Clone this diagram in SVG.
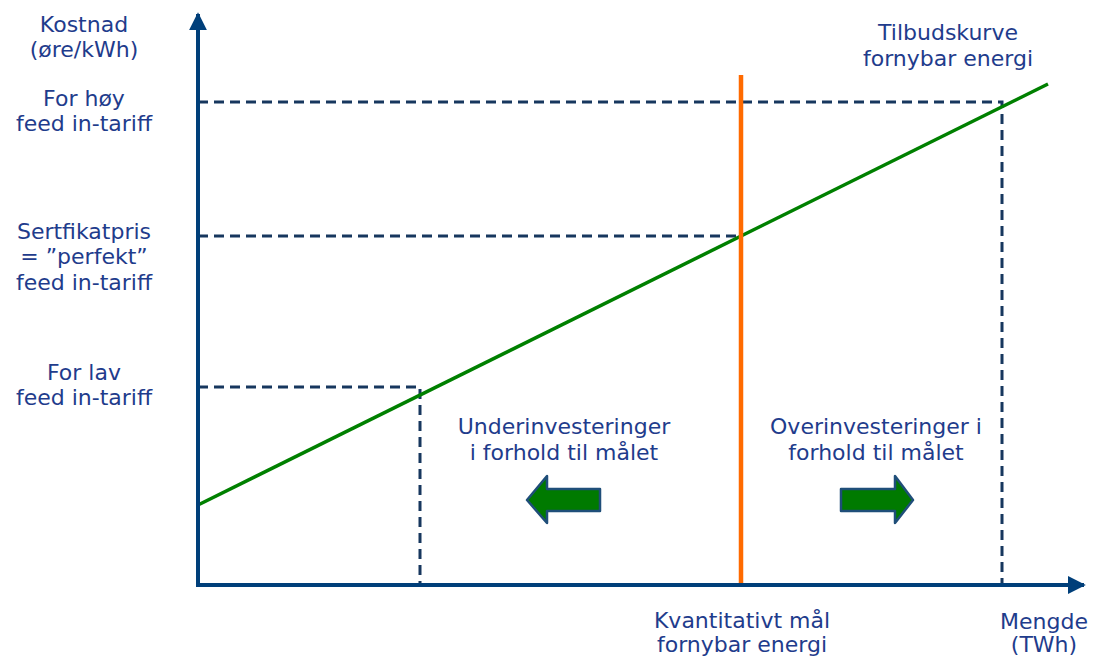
<svg xmlns="http://www.w3.org/2000/svg" width="1097" height="658" viewBox="0 0 1097 658">
<style>
text{font-family:"DejaVu Sans","Verdana",sans-serif;font-size:22px;fill:#1F3C8C;text-anchor:middle}
.axis{stroke:#003F7A;stroke-width:4;fill:none}
.dash{stroke:#17375E;stroke-width:3;stroke-dasharray:10 6;fill:none}
.blk{fill:#007A00;stroke:#1F4E79;stroke-width:2.5;stroke-linejoin:round}
</style>
<defs>
<marker id="ah" viewBox="0 0 10 10" refX="9" refY="5" markerWidth="4.5" markerHeight="4.5" orient="auto" markerUnits="strokeWidth">
<path d="M0,0 L10,5 L0,10 z" fill="#003F7A"/>
</marker>
</defs>
<rect width="1097" height="658" fill="#fff"/>
<g id="connectors">
<path class="dash" d="M198,102 H1002 V585"/>
<path class="dash" d="M198,236 H741"/>
<path class="dash" d="M198,387 H420 V585"/>
<line x1="198" y1="505" x2="1048" y2="84" stroke="#008000" stroke-width="3.5"/>
<line x1="741" y1="75" x2="741" y2="585" stroke="#FF6A00" stroke-width="4.5"/>
<line class="axis" x1="198" y1="587" x2="198" y2="14" marker-end="url(#ah)"/>
<line class="axis" x1="196" y1="585" x2="1084" y2="585" marker-end="url(#ah)"/>
</g>
<g id="y-axis-label"><text x="84" y="32">Kostnad</text><text x="84" y="57">(øre/kWh)</text></g>
<g id="high"><text x="84" y="106">For høy</text><text x="84" y="131">feed in-tariff</text></g>
<g id="cert"><text x="84" y="239">Sertfikatpris</text><text x="84" y="264">= ”perfekt”</text><text x="84" y="290">feed in-tariff</text></g>
<g id="low"><text x="84" y="380">For lav</text><text x="84" y="405">feed in-tariff</text></g>
<g id="supply"><text x="948" y="40">Tilbudskurve</text><text x="948" y="66">fornybar energi</text></g>
<g id="under"><text x="564" y="434">Underinvesteringer</text><text x="564" y="460">i forhold til målet</text>
<path class="blk" d="M527,500 L547,476 L547,489 L600,489 L600,511 L547,511 L547,523 Z"/></g>
<g id="over"><text x="876" y="434">Overinvesteringer i</text><text x="876" y="460">forhold til målet</text>
<path class="blk" d="M913,500 L895,476 L895,489 L841,489 L841,511 L895,511 L895,523 Z"/></g>
<g id="target"><text x="742" y="628">Kvantitativt mål</text><text x="742" y="652">fornybar energi</text></g>
<g id="x-axis-label"><text x="1044" y="629">Mengde</text><text x="1044" y="652">(TWh)</text></g>
</svg>
